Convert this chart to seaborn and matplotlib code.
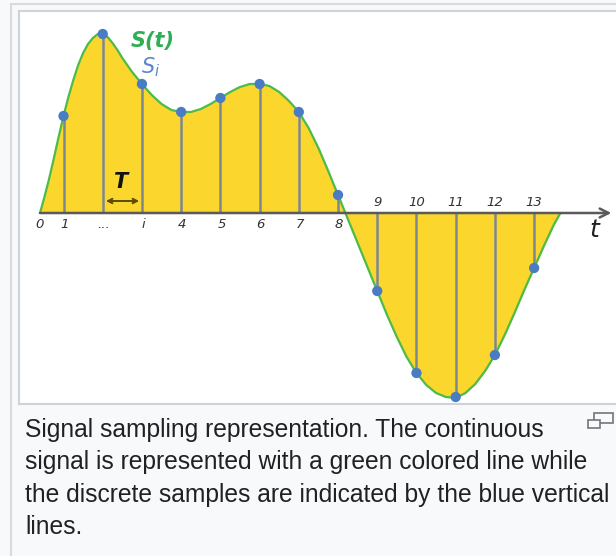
import matplotlib
matplotlib.use("Agg")
import matplotlib.pyplot as plt
from matplotlib.patches import Rectangle
import seaborn as sns

curve_t = [0.4, 0.5, 0.625, 0.75, 0.875, 1, 1.125, 1.25, 1.375, 1.5, 1.625, 1.75, 1.875,
           2, 2.125, 2.25, 2.375, 2.5, 2.75, 3, 3.25, 3.5, 3.75, 4, 4.25, 4.5, 4.75,
           5, 5.25, 5.5, 5.75, 6, 6.25, 6.5, 6.75, 7, 7.25, 7.5, 7.75, 8, 8.25, 8.5,
           8.75, 9, 9.25, 9.5, 9.75, 10, 10.25, 10.5, 10.75, 11, 11.25, 11.5, 11.75,
           12, 12.25, 12.5, 12.75, 13, 13.25, 13.5, 13.67]
curve_s = [0, 14, 33, 54, 76, 97, 116, 133, 148, 160, 169, 175, 179,
           179, 176, 170, 163, 155, 141, 129, 118, 109, 103, 101, 101, 104, 109,
           115, 121, 126, 129, 129, 127, 121, 112, 101, 85, 65, 42, 18, -6, -30,
           -54, -78, -102, -124, -144, -160, -172, -180, -184, -185, -180, -171, -158,
           -142, -122, -100, -77, -55, -33, -12, 0]

# discrete samples S_i
sample_t = [1, 2, 3, 4, 5, 6, 7, 8, 9, 10, 11, 12, 13]
sample_s = [97, 179, 129, 101, 115, 129, 101, 18, -78, -160, -184, -142, -55]

below_t = [0.35, 1, 2, 3, 4, 5, 6, 7, 8]
below_labels = ["0", "1", "...", "i", "4", "5", "6", "7", "8"]
above_t = [9, 10, 11, 12, 13]
above_labels = ["9", "10", "11", "12", "13"]

caption = ["Signal sampling representation. The continuous",
           "signal is represented with a green colored line while",
           "the discrete samples are indicated by the blue vertical",
           "lines."]

sns.set_style("white")
plt.rcParams["font.family"] = ["DejaVu Sans"]
plt.rcParams["mathtext.fontset"] = "dejavusans"

W, H = 616, 556
fig = plt.figure(figsize=(W / 100, H / 100), dpi=100)
fig.patch.set_facecolor("#f8f9fa")


def fx(px):
    return px / W


def fy(py):
    return 1 - py / H


# thumbnail frame
fig.add_artist(Rectangle((fx(11), fy(700)), fx(700) - fx(11), fy(4) - fy(700),
                         fill=False, ec="#dadada", lw=1.5, transform=fig.transFigure))

ax = fig.add_axes([fx(19), fy(404), fx(640) - fx(19), fy(11) - fy(404)])
ax.set_facecolor("white")
for side in ["left", "top", "bottom"]:
    ax.spines[side].set_color("#cfd2d6")
    ax.spines[side].set_linewidth(1.5)
ax.spines["right"].set_visible(False)
ax.set_xticks([])
ax.set_yticks([])
ax.set_xlim(-0.135, 15.7)
ax.set_ylim(-191, 202)

green = "#4cbb47"
yellow = "#fbd62c"
blue = "#4a7cc4"

ax.fill_between(curve_t, curve_s, 0, color=yellow, lw=0, zorder=1)
sns.lineplot(x=curve_t, y=curve_s, sort=False, color=green, lw=1.6, ax=ax, zorder=3)
ax.vlines(sample_t, 0, sample_s, color="#7d8792", lw=1.8, zorder=2)

# time axis
ax.annotate("", xy=(14.97, 0), xytext=(curve_t[0], 0),
            arrowprops=dict(arrowstyle="->", color="#5a5a5a", lw=1.8,
                            mutation_scale=16, shrinkA=0, shrinkB=0), zorder=4)

sns.scatterplot(x=sample_t, y=sample_s, color=blue, s=55, edgecolor="none", ax=ax, zorder=5)

for t, lab in zip(below_t, below_labels):
    ax.text(t + 0.03, -11, lab, ha="center", va="center", fontsize=9.5, style="italic",
            color="#333333", zorder=6)
for t, lab in zip(above_t, above_labels):
    ax.text(t, 10, lab, ha="center", va="center", fontsize=9.5, style="italic",
            color="#333333", zorder=6)

ax.text(14.53, -17, "t", ha="center", va="center", fontsize=18, style="italic", color="#222222")
ax.text(2.47, 31, "T", ha="center", va="center", fontsize=15, style="italic",
        weight="semibold", color="#111111")
ax.annotate("", xy=(2.93, 12), xytext=(2.08, 12),
            arrowprops=dict(arrowstyle="<->", color="#5b4c00", lw=1.4,
                            mutation_scale=8, shrinkA=0, shrinkB=0))
ax.text(3.28, 172, "S(t)", ha="center", va="center", fontsize=15, style="italic",
        weight="semibold", color="#2fae55")
ax.text(3.22, 146, "$S_i$", ha="center", va="center", fontsize=15, color="#5b86c9")

# caption
for k, line in enumerate(caption):
    fig.text(fx(25), fy(437 + 32.5 * k), line, fontsize=17.7, family="Liberation Sans",
             color="#202122", va="baseline")

# enlarge icon
fig.add_artist(Rectangle((fx(594), fy(423)), fx(613) - fx(594), fy(413) - fy(423),
                         fill=False, ec="#72777d", lw=1.2, transform=fig.transFigure))
fig.add_artist(Rectangle((fx(588), fy(428)), fx(600) - fx(588), fy(420) - fy(428),
                         fc="#f8f9fa", ec="#72777d", lw=1.2, transform=fig.transFigure))

fig.savefig("out.png", dpi=100, facecolor=fig.get_facecolor())
